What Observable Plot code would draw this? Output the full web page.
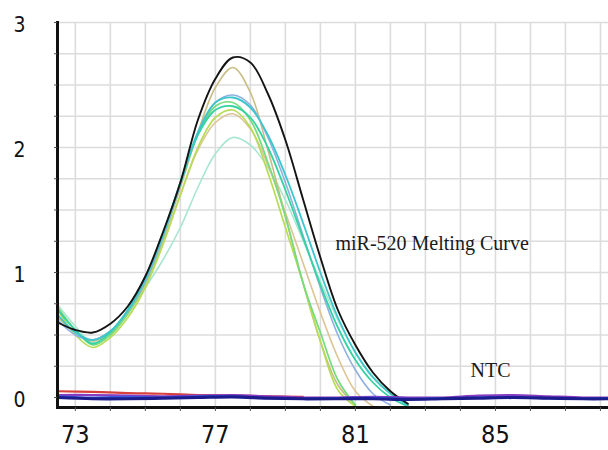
<!DOCTYPE html>
<html>
<head>
<meta charset="utf-8">
<script src="https://cdn.jsdelivr.net/npm/d3@7"></script>
<script src="https://cdn.jsdelivr.net/npm/@observablehq/plot@0.6"></script>
<style>
  html, body { margin: 0; padding: 0; background: #fff; }
  svg { display: block; }
</style>
</head>
<body>
<div id="chart"></div>
<script>
// Temperature grid (°C) used by the melting curves
const temps = [72.5, 73, 73.5, 74, 74.5, 75, 75.5, 76, 76.5, 77, 77.5, 78, 78.5, 79, 79.5, 80, 80.5, 81, 81.5, 82, 82.5];

// Melting curves (-dF/dT)
const curveKhaki      = [0.64, 0.52, 0.46, 0.53, 0.68, 0.92, 1.27, 1.68, 2.12, 2.48, 2.64, 2.44, 1.98, 1.45, 0.92, 0.45, 0.10, -0.06];
const curveYellow     = [0.70, 0.50, 0.40, 0.48, 0.64, 0.88, 1.22, 1.62, 2.00, 2.24, 2.30, 2.16, 1.80, 1.36, 0.92, 0.45, 0.06, -0.07];
const curveGreen      = [0.72, 0.54, 0.42, 0.50, 0.67, 0.92, 1.27, 1.70, 2.10, 2.33, 2.36, 2.22, 1.88, 1.45, 0.92, 0.52, 0.14, -0.06];
const curveTan        = [0.66, 0.52, 0.45, 0.52, 0.67, 0.90, 1.24, 1.62, 1.98, 2.20, 2.27, 2.15, 1.86, 1.48, 1.08, 0.68, 0.32, 0.05, -0.07];
const curveLavender   = [0.62, 0.50, 0.46, 0.53, 0.69, 0.93, 1.28, 1.70, 2.12, 2.36, 2.42, 2.34, 2.08, 1.72, 1.30, 0.88, 0.50, 0.22, 0.03, -0.06];
const curveCyan       = [0.66, 0.52, 0.46, 0.53, 0.70, 0.95, 1.30, 1.72, 2.12, 2.36, 2.40, 2.32, 2.10, 1.78, 1.40, 1.00, 0.64, 0.36, 0.16, 0.03, -0.06];
const curveTeal       = [0.70, 0.54, 0.43, 0.52, 0.70, 0.96, 1.31, 1.72, 2.10, 2.30, 2.33, 2.24, 2.00, 1.66, 1.28, 0.90, 0.56, 0.30, 0.12, 0.00, -0.07];
const curvePaleTeal   = [0.74, 0.57, 0.44, 0.52, 0.68, 0.88, 1.10, 1.36, 1.68, 1.95, 2.08, 2.02, 1.84, 1.58, 1.26, 0.93, 0.62, 0.36, 0.17, 0.04, -0.06];
const curveBlack      = [0.60, 0.54, 0.52, 0.59, 0.73, 0.97, 1.32, 1.72, 2.22, 2.55, 2.72, 2.68, 2.43, 2.06, 1.59, 1.12, 0.70, 0.42, 0.20, 0.05, -0.05];

// No-template controls (NTC), flat near zero
const ntcTemps  = [72.5, 73.5, 74.5, 75.5, 76.5, 77.5, 78.5, 79.5, 80.5, 81.5, 82.5, 83.5, 84.5, 85.5, 86.5, 87.5, 88.2];
const ntcRed    = [0.050, 0.045, 0.035, 0.030, 0.020, 0.015, 0.010, 0.005];
const ntcPurple = [0.020, 0.020, 0.015, 0.010, 0.015, 0.020, 0.010, 0.000, 0.000, 0.005, 0.000, 0.000, 0.015, 0.020, 0.010, 0.000, 0.000];
const ntcBlue   = [0.010, 0.000, 0.005, 0.000, 0.010, 0.010, -0.005, -0.010, -0.005, 0.000, -0.010, -0.005, 0.000, 0.005, -0.005, -0.010, -0.005];
const ntcNavy   = [0.000, -0.010, -0.010, -0.005, 0.000, 0.005, -0.005, -0.010, -0.010, -0.010, -0.015, -0.010, -0.005, 0.000, -0.005, -0.010, -0.010];

// Axis ticks and grid
const xTickLabels = [73, 77, 81, 85];
const yTickLabels = [0, 1, 2, 3];
const xGrid = [73, 74, 75, 76, 77, 78, 79, 80, 81, 82, 83, 84, 85, 86, 87, 88];
const yGrid = [0, 0.25, 0.5, 0.75, 1, 1.25, 1.5, 1.75, 2, 2.25, 2.5, 2.75, 3];

// Annotations
const annotationText = ["miR-520 Melting Curve", "NTC"];
const annotationT    = [80.43, 84.29];
const annotationV    = [1.23, 0.216];

function series(xs, ys) {
  return ys.map((v, i) => ({t: xs[i], v})).filter(d => d.v != null);
}

const curves = [
  {values: curvePaleTeal, color: "#a8e6cf", width: 1.6},
  {values: curveTan,      color: "#dcc494", width: 1.6},
  {values: curveKhaki,    color: "#c9bd86", width: 1.6},
  {values: curveYellow,   color: "#b8dc56", width: 1.7},
  {values: curveGreen,    color: "#74dc7c", width: 1.7},
  {values: curveLavender, color: "#8fb0e2", width: 1.6},
  {values: curveTeal,     color: "#36d2a4", width: 1.8},
  {values: curveCyan,     color: "#3cc6cc", width: 1.8},
  {values: curveBlack,    color: "#141414", width: 1.9}
];

const ntc = [
  {values: ntcRed,    color: "#d8403c", width: 2.2},
  {values: ntcPurple, color: "#8a3cc0", width: 2.2},
  {values: ntcBlue,   color: "#3a5ae0", width: 2.2},
  {values: ntcNavy,   color: "#1c1c8e", width: 3.2}
];

const annotations = annotationText.map((text, i) => ({text, t: annotationT[i], v: annotationV[i]}));

const chart = Plot.plot({
  width: 608,
  height: 450,
  marginTop: 22,
  marginBottom: 43,
  marginLeft: 57,
  marginRight: 0,
  x: {domain: [72.49, 88.23], label: null},
  y: {domain: [-0.08, 3], label: null},
  style: {background: "#fff", fontFamily: "'Liberation Sans Narrow', 'DejaVu Sans Condensed', sans-serif", color: "#111"},
  marks: [
    Plot.gridX({ticks: xGrid, stroke: "#dcdcdc", strokeOpacity: 1, strokeWidth: 1.6}),
    Plot.gridY({ticks: yGrid, stroke: "#dcdcdc", strokeOpacity: 1, strokeWidth: 1.6}),
    ...curves.map(c => Plot.line(series(temps, c.values), {x: "t", y: "v", stroke: c.color, strokeWidth: c.width, curve: "catmull-rom"})),
    ...ntc.map(c => Plot.line(series(ntcTemps, c.values), {x: "t", y: "v", stroke: c.color, strokeWidth: c.width, curve: "catmull-rom"})),
    Plot.frame({anchor: "left", stroke: "#111", strokeWidth: 3}),
    Plot.frame({anchor: "bottom", stroke: "#111", strokeWidth: 3}),
    Plot.axisX({ticks: xGrid, tickSize: 4, tickFormat: () => "", stroke: "#555", label: null}),
    Plot.axisX({ticks: xTickLabels, tickSize: 0, tickPadding: 18, tickFormat: d => String(d), fontSize: 25, label: null, fill: "#111"}),
    Plot.axisY({ticks: yGrid, tickSize: 3, tickFormat: () => "", stroke: "#555", label: null}),
    Plot.axisY({ticks: yTickLabels, tickSize: 0, tickPadding: 32, tickFormat: d => String(d), fontSize: 21, dy: 3, label: null, fill: "#111"}),
    Plot.text(annotations, {x: "t", y: "v", text: "text", textAnchor: "start", fontFamily: "'Liberation Serif', 'Times New Roman', serif", fontSize: 20, fill: "#1a1a1a"})
  ]
});

document.getElementById("chart").appendChild(chart);
</script>
</body>
</html>
